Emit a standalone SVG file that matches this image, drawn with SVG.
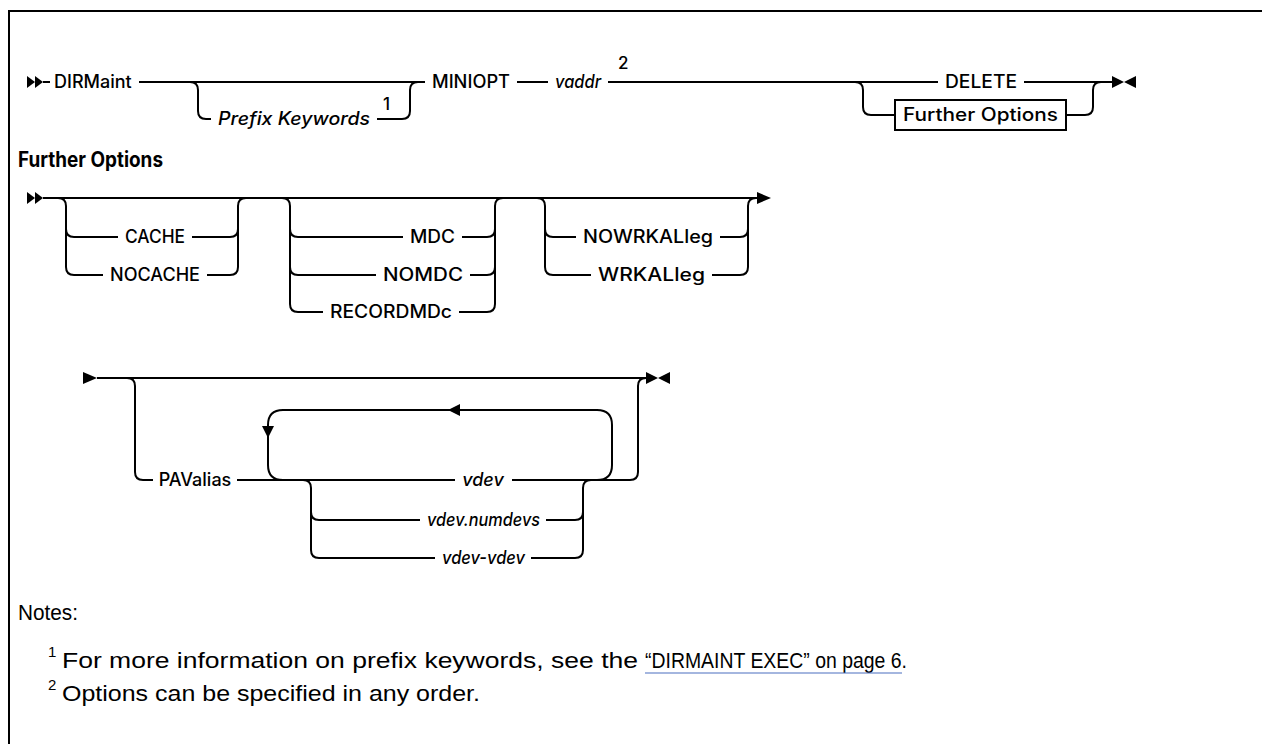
<svg xmlns="http://www.w3.org/2000/svg" width="1262" height="744" viewBox="0 0 1262 744">
<style>
.ln{fill:none;stroke:#000;stroke-width:2}
.ar{fill:#000;stroke:none}
.t{font-family:Inter,"Liberation Sans",sans-serif;font-size:18px;font-weight:500;fill:#000}
.m{text-anchor:middle}
.i{font-style:italic}
.sup{font-family:Inter,"Liberation Sans",sans-serif;font-size:17px;font-weight:500;fill:#000}
.h{font-family:Inter,"Liberation Sans",sans-serif;font-size:21px;font-weight:700;fill:#000}
.n{font-family:"Liberation Sans",sans-serif;font-size:22px;fill:#000}
.ns{font-family:"Liberation Sans",sans-serif;font-size:15px;fill:#000}
.lk{stroke:#4a6fc0;stroke-width:1.2;fill:none}
</style>
<defs>
<g id="dbl"><polygon points="0,-6 8,0 0,6"/><polygon points="8,-6 16,0 8,6"/></g>
<g id="term"><polygon points="0,-6 12,0 0,6"/><polygon points="24,-6 12,0 24,6"/></g>
</defs>
<path class="ln" d="M9 744 V11 H1262"/>

<g id="connectors">
<g class="ar">
<use href="#dbl" x="27" y="82"/>
<use href="#term" x="1112" y="82"/>
<use href="#dbl" x="27" y="198"/>
<polygon points="757,192 771,198 757,204"/>
<polygon points="83,372 97,378 83,384"/>
<use href="#term" x="646" y="378"/>
<polygon points="448,410 460,404 460,416"/>
<polygon points="262,426 274,426 268,438"/>
</g>
<path class="ln" d="M43 82 H50 M139 82 H425 M190 82 q8 0 8 8 V111 q0 8 8 8 H211 M377 119 H402 q8 0 8 -8 V90 q0 -8 8 -8 M517 82 H548 M608 82 H938 M855 82 q8 0 8 8 V107 q0 8 8 8 H895 M1066 115 H1085 q8 0 8 -8 V90 q0 -8 8 -8 M1024 82 H1112"/>
<path class="ln" d="M43 198 H757 M58 198 q8 0 8 8 V267 q0 8 8 8 H103 M66 229 q0 8 8 8 H118 M192 237 H230 q8 0 8 -8 V206 q0 -8 8 -8 M207 275 H230 q8 0 8 -8 V229"/>
<path class="ln" d="M282 198 q8 0 8 8 V304 q0 8 8 8 H323 M290 229 q0 8 8 8 H403 M290 267 q0 8 8 8 H376 M462 237 H487 q8 0 8 -8 V206 q0 -8 8 -8 M470 275 H487 q8 0 8 -8 M459 312 H487 q8 0 8 -8 V229"/>
<path class="ln" d="M537 198 q8 0 8 8 V267 q0 8 8 8 H591 M545 229 q0 8 8 8 H576 M720 237 H740 q8 0 8 -8 V206 q0 -8 8 -8 M712 275 H740 q8 0 8 -8 V229"/>
<path class="ln" d="M97 378 H646 M127 378 q8 0 8 8 V472 q0 8 8 8 H153 M237 480 H455 M512 480 H630 q8 0 8 -8 V386 q0 -8 8 -8"/>
<path class="ln" d="M283 480 q-15 0 -15 -15 V425 q0 -15 15 -15 H597 q15 0 15 15 V465 q0 15 -15 15"/>
<path class="ln" d="M303 480 q8 0 8 8 V550 q0 8 8 8 H435 M311 512 q0 8 8 8 H420 M546 520 H575 q8 0 8 -8 V488 q0 -8 8 -8 M531 558 H575 q8 0 8 -8 V512"/>
</g>

<g id="n-dirmaint"><text class="t" x="54" y="88">DIRMaint</text></g>
<g id="n-prefix"><text class="t i" x="218" y="125" textLength="152" lengthAdjust="spacingAndGlyphs">Prefix Keywords</text><text class="sup" x="383" y="110">1</text></g>
<g id="n-miniopt"><text class="t" x="432" y="88" textLength="78" lengthAdjust="spacingAndGlyphs">MINIOPT</text></g>
<g id="n-vaddr"><text class="t i" x="555" y="88" textLength="46" lengthAdjust="spacingAndGlyphs">vaddr</text><text class="sup" x="618" y="69">2</text></g>
<g id="n-delete"><text class="t" x="945" y="88" textLength="72" lengthAdjust="spacingAndGlyphs">DELETE</text></g>
<g id="n-furtherbox"><rect x="895" y="100" width="171" height="30" fill="#fff" stroke="#000" stroke-width="2"/><text class="t" x="903" y="121" textLength="155" lengthAdjust="spacingAndGlyphs">Further Options</text></g>

<g id="n-heading"><text class="h" x="18" y="167" textLength="145" lengthAdjust="spacingAndGlyphs">Further Options</text></g>
<g id="n-cache"><text class="t" x="125" y="243" textLength="60" lengthAdjust="spacingAndGlyphs">CACHE</text></g>
<g id="n-nocache"><text class="t" x="110" y="281" textLength="90" lengthAdjust="spacingAndGlyphs">NOCACHE</text></g>
<g id="n-mdc"><text class="t" x="410" y="243" textLength="45" lengthAdjust="spacingAndGlyphs">MDC</text></g>
<g id="n-nomdc"><text class="t" x="383" y="281" textLength="80" lengthAdjust="spacingAndGlyphs">NOMDC</text></g>
<g id="n-recordmdc"><text class="t" x="330" y="318" textLength="122" lengthAdjust="spacingAndGlyphs">RECORDMDc</text></g>
<g id="n-nowrkalleg"><text class="t" x="583" y="243" textLength="130" lengthAdjust="spacingAndGlyphs">NOWRKALleg</text></g>
<g id="n-wrkalleg"><text class="t" x="598" y="281" textLength="107" lengthAdjust="spacingAndGlyphs">WRKALleg</text></g>

<g id="n-pavalias"><text class="t m" x="195" y="486">PAValias</text></g>
<g id="n-vdev"><text class="t i m" x="483" y="486">vdev</text></g>
<g id="n-vdevnum"><text class="t i" x="427" y="526" textLength="113" lengthAdjust="spacingAndGlyphs">vdev.numdevs</text></g>
<g id="n-vdevvdev"><text class="t i" x="442" y="564" textLength="83" lengthAdjust="spacingAndGlyphs">vdev-vdev</text></g>

<g id="n-notes">
<text class="n" x="18" y="620" textLength="60" lengthAdjust="spacingAndGlyphs">Notes:</text>
<text class="ns" x="48" y="657">1</text>
<text class="n" x="62" y="668" textLength="576" lengthAdjust="spacingAndGlyphs">For more information on prefix keywords, see the</text>
<text class="n" x="645" y="668" textLength="262" lengthAdjust="spacingAndGlyphs">“DIRMAINT EXEC” on page 6.</text>
<path class="lk" d="M645 673 H902"/>
<text class="ns" x="48" y="690">2</text>
<text class="n" x="62" y="701" textLength="418" lengthAdjust="spacingAndGlyphs">Options can be specified in any order.</text>
</g>
</svg>
